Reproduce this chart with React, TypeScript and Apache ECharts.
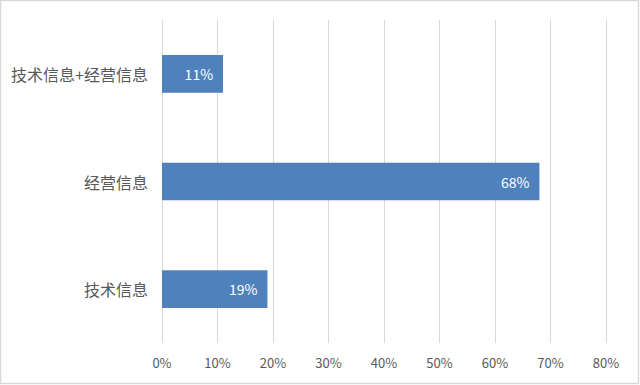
import React, { useEffect, useRef } from "react";
import * as echarts from "echarts";

const categories = ["技术信息", "经营信息", "技术信息+经营信息"];
const values = [19, 68, 11];
const xTicks = { min: 0, max: 80, interval: 10 };

export default function App() {
  const ref = useRef<HTMLDivElement>(null);
  useEffect(() => {
    const chart = echarts.init(ref.current!, null, { renderer: "svg" });
    chart.setOption({
      animation: false,
      backgroundColor: "#ffffff",
      textStyle: { fontFamily: "'Noto Sans CJK SC', 'Open Sans', sans-serif" },
      graphic: [
        {
          type: "rect",
          shape: { x: 0.5, y: 0.5, width: 638, height: 383 },
          style: { fill: "none", stroke: "#d9d9d9", lineWidth: 1.5 },
          silent: true,
        },
      ],
      grid: { left: 162, right: 34, top: 20, bottom: 42, containLabel: false },
      xAxis: {
        type: "value",
        min: xTicks.min,
        max: xTicks.max,
        interval: xTicks.interval,
        axisLine: { show: false },
        axisTick: { show: false },
        splitLine: { show: true, lineStyle: { color: "#d9d9d9", width: 1 } },
        axisLabel: {
          color: "#595959",
          fontSize: 13,
          margin: 13,
          formatter: (v: number) => v + "%",
        },
      },
      yAxis: {
        type: "category",
        data: categories,
        axisLine: { show: false },
        axisTick: { show: false },
        axisLabel: { color: "#595959", fontSize: 16, margin: 14 },
      },
      series: [
        {
          type: "bar",
          data: values,
          barWidth: "35%",
          itemStyle: { color: "#4f81bd" },
          label: {
            show: true,
            position: "insideRight",
            distance: 10,
            color: "#ffffff",
            fontSize: 14,
            formatter: (p: any) => p.value + "%",
          },
        },
      ],
    });
    return () => chart.dispose();
  }, []);
  return (
    <div
      ref={ref}
      style={{ position: "fixed", left: 0, top: 0, width: 640, height: 385 }}
    />
  );
}
